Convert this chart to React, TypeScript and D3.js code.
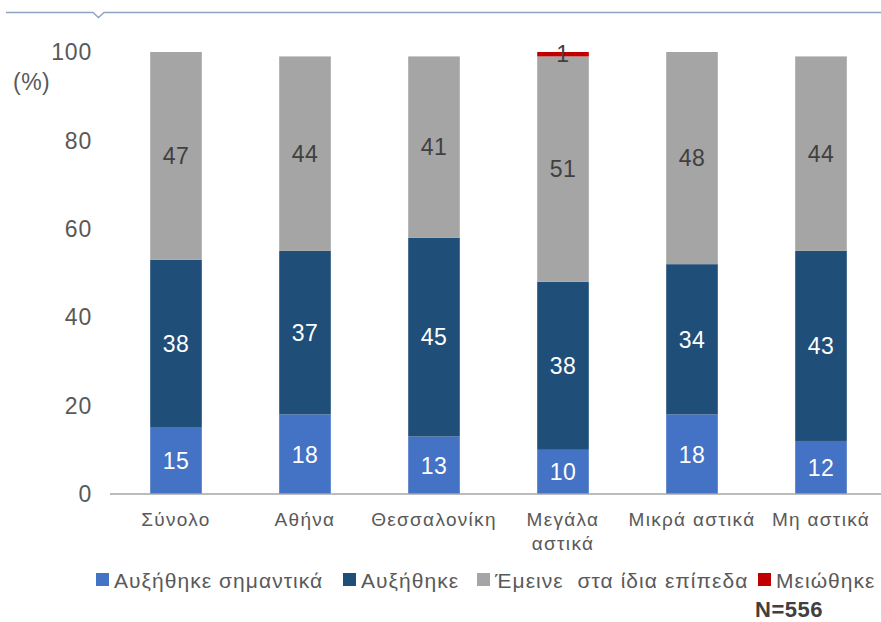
import React from "react";
import * as d3 from "d3";

const categories = ["Σύνολο", "Αθήνα", "Θεσσαλονίκη", "Μεγάλα αστικά", "Μικρά αστικά", "Μη αστικά"];
const categoryLines = [["Σύνολο"], ["Αθήνα"], ["Θεσσαλονίκη"], ["Μεγάλα", "αστικά"], ["Μικρά αστικά"], ["Μη αστικά"]];
const seriesNames = ["Αυξήθηκε σημαντικά", "Αυξήθηκε", "Έμεινε  στα ίδια επίπεδα", "Μειώθηκε"];
const increasedSignificantly = [15, 18, 13, 10, 18, 12];
const increased = [38, 37, 45, 38, 34, 43];
const stayedSame = [47, 44, 41, 51, 48, 44];
const decreased = [0, 0, 0, 1, 0, 0];
const yTicks = [0, 20, 40, 60, 80, 100];

const colors = ["#4472C4", "#1F4E79", "#A5A5A5", "#C00000"];
const labelColors = ["#ffffff", "#ffffff", "#404040", "#404040"];
const FONT = "'Liberation Sans', Arial, sans-serif";

export default function App() {
  const W = 881, H = 622;
  const y = d3.scaleLinear().domain([0, 100]).range([494, 52]);
  const x = d3.scaleBand<string>().domain(categories).range([111.5, 885.5]).paddingInner(0.6).paddingOuter(0.3);
  const rows = categories.map((c, i) => ({
    cat: c,
    v: [increasedSignificantly[i], increased[i], stayedSame[i], decreased[i]],
  }));
  const stack = d3.stack<any>().keys(["0", "1", "2", "3"]).value((d: any, k: string) => d.v[+k]);
  const stacked = stack(rows);

  const legendX = [96, 343, 477, 758];

  return (
    <svg width={W} height={H} style={{ position: "absolute", left: 0, top: 0, background: "#fff" }} fontFamily={FONT}>
      <path d="M6,12.5 H93 L98.5,17.5 L104,12.5 H881" fill="none" stroke="#8EA3C4" strokeWidth={1.3} />
      {stacked.map((s, si) => (
        <g key={si}>
          {s.map((d, ci) => {
            const val = d[1] - d[0];
            if (val <= 0) return null;
            const x0 = x(categories[ci])!;
            return (
              <rect key={ci} x={x0} y={y(d[1])} width={x.bandwidth()} height={y(d[0]) - y(d[1])} fill={colors[si]} />
            );
          })}
        </g>
      ))}
      {stacked.map((s, si) => (
        <g key={"l" + si}>
          {s.map((d, ci) => {
            const val = d[1] - d[0];
            if (val <= 0) return null;
            const cx = x(categories[ci])! + x.bandwidth() / 2;
            return (
              <text key={ci} x={cx} y={y((d[0] + d[1]) / 2)} dy="0.36em" textAnchor="middle" fontSize={23} letterSpacing={0.5} fill={labelColors[si]}>
                {val}
              </text>
            );
          })}
        </g>
      ))}
      <line x1={110} x2={881} y1={494} y2={494} stroke="#A6A6A6" strokeWidth={1.5} />
      {yTicks.map((t) => (
        <text key={t} x={92} y={y(t)} dy="0.36em" textAnchor="end" fontSize={23} letterSpacing={0.8} fill="#595959">
          {t}
        </text>
      ))}
      <text x={13} y={82} dy="0.36em" fontSize={23} letterSpacing={0.5} fill="#595959">(%)</text>
      {categoryLines.map((lines, i) => (
        <text key={i} x={x(categories[i])! + x.bandwidth() / 2} y={519} fontSize={19} letterSpacing={1.3} fill="#595959" textAnchor="middle">
          {lines.map((l, li) => (
            <tspan key={li} x={x(categories[i])! + x.bandwidth() / 2} dy={li === 0 ? "0.36em" : 24}>{l}</tspan>
          ))}
        </text>
      ))}
      {seriesNames.map((n, i) => (
        <g key={n}>
          <rect x={legendX[i]} y={573} width={13} height={13} fill={colors[i]} />
          <text x={legendX[i] + 18} y={580} dy="0.36em" fontSize={21} letterSpacing={1.05} fill="#595959" style={{ whiteSpace: "pre" }}>{n}</text>
        </g>
      ))}
      <text x={755} y={609} dy="0.36em" fontSize={22} letterSpacing={0.5} fontWeight="bold" fill="#404040">N=556</text>
    </svg>
  );
}
